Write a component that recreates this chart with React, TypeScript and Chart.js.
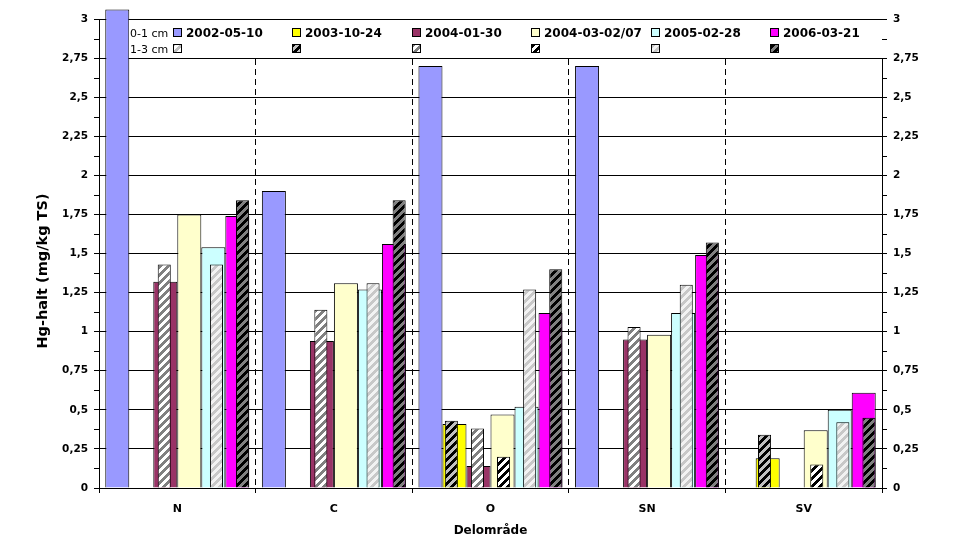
import React, { useEffect, useRef } from 'react';
import { Chart, registerables } from 'chart.js';

Chart.register(...registerables);

// ---------- data ----------
const categories = ['N', 'C', 'O', 'SN', 'SV'];
const dates = ['2002-05-10', '2003-10-24', '2004-01-30', '2004-03-02/07', '2005-02-28', '2006-03-21'];
const yTickValues = [0, 0.25, 0.5, 0.75, 1, 1.25, 1.5, 1.75, 2, 2.25, 2.5, 2.75, 3];
const yTickLabels = ['0', '0,25', '0,5', '0,75', '1', '1,25', '1,5', '1,75', '2', '2,25', '2,5', '2,75', '3'];

// 0-1 cm
const surf2002 = [3.06, 1.9, 2.7, 2.7, null];
const surf2003 = [null, null, 0.41, null, 0.19];
const surf2004a = [1.32, 0.94, 0.14, 0.95, null];
const surf2004b = [1.75, 1.31, 0.47, 0.98, 0.37];
const surf2005 = [1.54, 1.27, 0.52, 1.12, 0.5];
const surf2006 = [1.74, 1.56, 1.12, 1.49, 0.61];

// 1-3 cm
const deep2002 = [null, null, null, null, null];
const deep2003 = [null, null, 0.43, null, 0.34];
const deep2004a = [1.43, 1.14, 0.38, 1.03, null];
const deep2004b = [null, null, 0.2, null, 0.15];
const deep2005 = [1.43, 1.31, 1.27, 1.3, 0.42];
const deep2006 = [1.84, 1.84, 1.4, 1.57, 0.45];

const surfData = [surf2002, surf2003, surf2004a, surf2004b, surf2005, surf2006];
const deepData = [deep2002, deep2003, deep2004a, deep2004b, deep2005, deep2006];

// ---------- styles ----------
const solidColors = ['#9999FF', '#FFFF00', '#993366', '#FFFFCC', '#CCFFFF', '#FF00FF'];
const hatchBg = ['#FFFFFF', '#C0C0C0', '#FFFFFF', '#FFFFFF', '#F2F2F2', '#808080'];
const hatchFg = ['#C0C0C0', '#000000', '#808080', '#000000', '#C8C8C8', '#000000'];

const FONT = '"DejaVu Sans", "Liberation Sans", sans-serif';

function makeHatch(ctx: CanvasRenderingContext2D, bg: string, fg: string): CanvasPattern {
  const c = document.createElement('canvas');
  c.width = 8;
  c.height = 8;
  const g = c.getContext('2d')!;
  g.fillStyle = bg;
  g.fillRect(0, 0, 8, 8);
  g.fillStyle = fg;
  for (let y = 0; y < 8; y++) {
    for (let x = 0; x < 8; x++) {
      if ((x + y) % 8 < 4) g.fillRect(x, y, 1, 1);
    }
  }
  return ctx.createPattern(c, 'repeat')!;
}

const legendPlugin = {
  id: 'customLegend',
  afterDatasetsDraw(chart: any) {
    const { ctx, chartArea } = chart;
    const yScale = chart.scales.y;
    const firstBar = chart.getDatasetMeta(0).data[0];
    const left = Math.round(firstBar.x + firstBar.width / 2);
    const bottom = Math.round(yScale.getPixelForValue(2.75));
    ctx.save();
    ctx.fillStyle = '#FFFFFF';
    ctx.fillRect(left, chartArea.top + 1, chartArea.right + 1 - left, bottom - chartArea.top - 1);

    ctx.fillStyle = '#000';
    ctx.textBaseline = 'alphabetic';
    ctx.textAlign = 'left';
    ctx.font = `11px ${FONT}`;
    ctx.fillText('0-1 cm', 130, 37);
    ctx.fillText('1-3 cm', 130, 53);

    const ds = chart.data.datasets;
    for (let i = 0; i < dates.length; i++) {
      const x = Math.round(172.5 + 119.5 * i);
      ctx.fillStyle = ds[i].backgroundColor;
      ctx.fillRect(x, 28, 9, 9);
      ctx.strokeStyle = '#000';
      ctx.lineWidth = 1;
      ctx.strokeRect(x + 0.5, 28.5, 8, 8);
      ctx.fillStyle = ds[i + dates.length].backgroundColor;
      ctx.fillRect(x, 44, 9, 9);
      ctx.strokeRect(x + 0.5, 44.5, 8, 8);
      ctx.fillStyle = '#000';
      ctx.font = `bold 12px ${FONT}`;
      ctx.fillText(dates[i], x + 13, 37);
    }
    ctx.restore();
  },
  afterDraw(chart: any) {
    const { ctx } = chart;
    const yScale = chart.scales.y;
    ctx.save();
    ctx.strokeStyle = '#000';
    ctx.lineWidth = 1;
    ctx.beginPath();
    for (let k = 0; k < 12; k++) {
      const v = 0.125 + 0.25 * k;
      const py = Math.round(yScale.getPixelForValue(v)) + 0.5;
      ctx.moveTo(chart.chartArea.left - 5, py);
      ctx.lineTo(chart.chartArea.left, py);
      ctx.moveTo(chart.chartArea.right, py);
      ctx.lineTo(chart.chartArea.right + 5, py);
    }
    ctx.stroke();
    ctx.fillStyle = '#000';
    ctx.textAlign = 'center';
    ctx.textBaseline = 'middle';
    ctx.font = `bold 12px ${FONT}`;
    ctx.fillText('Delområde', (chart.chartArea.left + chart.chartArea.right) / 2, 531);
    ctx.translate(43, 271);
    ctx.rotate(-Math.PI / 2);
    ctx.font = `bold 14.5px ${FONT}`;
    ctx.fillText('Hg-halt (mg/kg TS)', 0, 0);
    ctx.restore();
  },
};

export default function App() {
  const ref = useRef<HTMLCanvasElement | null>(null);

  useEffect(() => {
    document.body.style.margin = '0';
    const canvas = ref.current!;
    const ctx = canvas.getContext('2d')!;
    const patterns = dates.map((_, i) => makeHatch(ctx, hatchBg[i], hatchFg[i]));

    const yTicksCfg = {
      callback: (_v: any, i: number) => yTickLabels[i],
      font: { family: FONT, weight: 'bold' as const, size: 10.5 },
      color: '#000',
      padding: 6,
    };
    const setTicks = (s: any) => {
      s.ticks = yTickValues.map((v) => ({ value: v }));
    };

    const chart = new Chart(canvas, {
      type: 'bar',
      data: {
        labels: categories,
        datasets: [
          ...dates.map((d, i) => ({
            label: `0-1 cm ${d}`,
            data: surfData[i],
            backgroundColor: solidColors[i],
            borderColor: '#000',
            borderWidth: 1,
            stack: `s${i}`,
            yAxisID: 'y',
            categoryPercentage: 0.92,
            barPercentage: 1,
            order: 1,
            clip: i === 0 ? (false as any) : undefined,
          })),
          ...dates.map((d, i) => ({
            label: `1-3 cm ${d}`,
            data: deepData[i],
            backgroundColor: patterns[i] as any,
            borderColor: '#000',
            borderWidth: 1,
            stack: `s${i}`,
            yAxisID: 'y',
            categoryPercentage: 1,
            barPercentage: 0.5,
            order: 0,
          })),
        ] as any,
      },
      options: {
        responsive: false,
        animation: false,
        events: [],
        layout: { padding: { top: 19, left: 0, right: 0, bottom: 0 } },
        plugins: { legend: { display: false }, tooltip: { enabled: false } },
        scales: {
          x: {
            type: 'category',
            position: 'bottom',
            offset: true,
            grid: {
              display: true,
              offset: true,
              color: '#000',
              lineWidth: 1,
              drawOnChartArea: true,
              drawTicks: true,
              tickLength: 5,
              tickColor: '#000',
            },
            border: { display: true, color: '#000', width: 1, dash: [6, 4] },
            ticks: {
              font: { family: FONT, weight: 'bold', size: 11 },
              color: '#000',
              padding: 10,
            },
            afterFit: (s: any) => {
              s.height = 59;
            },
          },
          y: {
            type: 'linear',
            position: 'left',
            min: 0,
            max: 3,
            stacked: false,
            afterBuildTicks: setTicks,
            ticks: yTicksCfg,
            grid: { color: '#000', lineWidth: 1, drawTicks: true, tickLength: 5, tickColor: '#000' },
            border: { display: true, color: '#000', width: 1 },
            afterFit: (s: any) => {
              s.width = 99;
            },
          },
          y2: {
            type: 'linear',
            position: 'right',
            min: 0,
            max: 3,
            afterBuildTicks: setTicks,
            ticks: yTicksCfg,
            grid: { drawOnChartArea: false, drawTicks: true, tickLength: 5, tickColor: '#000', color: '#000' },
            border: { display: true, color: '#000', width: 1 },
            afterFit: (s: any) => {
              s.width = 93;
            },
          },
        },
      } as any,
      plugins: [legendPlugin],
    });

    return () => {
      chart.destroy();
    };
  }, []);

  return (
    <div style={{ width: 975, height: 547 }}>
      <canvas ref={ref} width={975} height={547} style={{ display: 'block' }} />
    </div>
  );
}
